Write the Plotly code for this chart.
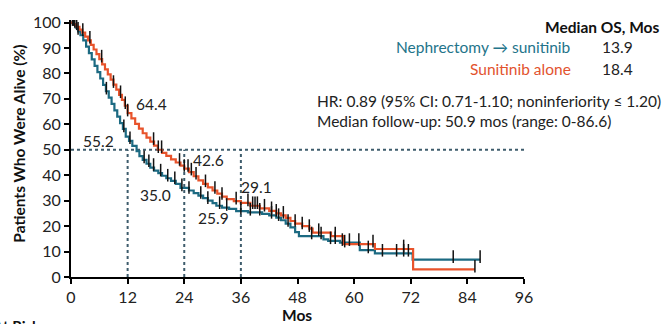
import numpy as np
import plotly.graph_objects as go

# ---------------- data ----------------
neph_t = [0, 0.5, 1.0, 1.5, 2.0, 2.6, 3.2, 3.8, 4.4, 5.0, 5.6, 6.2, 6.8, 7.4, 8.0, 8.6,
          9.2, 9.8, 10.4, 11.0, 11.6, 12.3, 13.0, 13.9, 14.5, 15.2, 16.0, 16.8, 17.6,
          18.5, 19.3, 20.2, 21.2, 22.2, 23.2, 25.0, 26.0, 27.0, 28.0, 29.0, 30.0, 30.8,
          32.0, 33.5, 35.0, 37.5, 40.5, 42.0, 43.5, 44.5, 45.5, 46.5, 47.5, 48.3, 53.5,
          54.5, 57.0, 61.2, 64.4, 72.4, 86.7]
neph_s = [100, 99.2, 98.0, 96.5, 95.0, 93.0, 90.5, 88.0, 85.5, 83.0, 80.5, 78.0, 75.5,
          73.0, 70.5, 68.0, 65.5, 63.0, 60.5, 58.2, 55.2, 53.5, 51.5, 49.5, 47.5, 46.0,
          44.5, 43.0, 41.8, 40.8, 39.8, 38.8, 37.8, 36.6, 35.0, 34.0, 33.0, 32.0, 31.0,
          30.0, 29.0, 28.0, 27.3, 26.8, 25.9, 25.4, 24.8, 24.2, 23.3, 22.3, 21.0, 19.5,
          17.6, 16.1, 14.8, 14.2, 13.5, 10.6, 9.3, 6.8, 6.8]

sun_t = [0, 0.6, 1.2, 1.8, 2.4, 3.0, 3.6, 4.2, 4.8, 5.4, 6.0, 6.6, 7.2, 7.8, 8.4, 9.0,
         9.6, 10.2, 10.8, 11.4, 12.0, 12.8, 13.6, 14.4, 15.2, 16.0, 16.8, 17.6, 18.4,
         19.3, 20.2, 21.2, 22.2, 23.2, 24.0, 25.0, 26.0, 27.0, 28.0, 29.0, 30.0, 31.0,
         32.0, 33.0, 34.5, 36.0, 38.0, 40.0, 42.0, 43.5, 44.5, 45.5, 46.5, 47.5, 49.0,
         50.5, 51.2, 55.1, 57.8, 64.4, 72.5, 85.6]
sun_s = [100, 99.3, 98.3, 97.2, 96.0, 94.5, 93.0, 91.2, 89.4, 87.6, 85.6, 83.6, 81.6,
         79.6, 77.6, 75.6, 73.6, 71.6, 69.6, 67.3, 64.4, 62.3, 60.2, 58.3, 56.5, 54.8,
         53.2, 51.6, 50.0, 48.8, 47.6, 46.2, 45.0, 43.8, 42.6, 41.2, 39.6, 38.0, 36.6,
         35.2, 34.0, 32.8, 31.6, 30.6, 29.8, 29.1, 28.0, 27.0, 26.0, 25.0, 24.2, 23.2,
         22.0, 21.0, 20.0, 19.0, 17.4, 16.1, 12.9, 11.0, 3.0, 3.0]

neph_cens = [0.3, 0.8, 1.5, 7.5, 11.2, 12.5, 15.5, 16.5, 17.5, 19.0, 20.5, 22.0, 23.5,
             25.0, 27.5, 29.0, 31.5, 33.0, 36.0, 38.0, 40.0, 42.5, 44.0, 46.0, 51.0,
             53.0, 55.0, 56.0, 57.5, 59.0, 61.0, 63.0, 66.0, 69.0, 70.5, 71.5, 81.0, 86.7]
sun_cens = [0.5, 1.2, 2.5, 4.0, 6.5, 9.0, 10.5, 11.5, 12.0, 17.5, 18.5, 19.2, 23.0, 24.0,
            24.8, 25.5, 26.5, 28.5, 30.5, 32.0, 35.0, 37.5, 38.5, 39.0, 39.5, 41.0, 42.5,
            43.5, 45.0, 47.5, 49.0, 50.5, 52.5, 56.0, 58.0, 64.0, 70.5, 85.6]

landmark_months = [12, 24, 36]
neph_landmarks = [55.2, 35.0, 25.9]
sun_landmarks = [64.4, 42.6, 29.1]

arm_names = ["Nephrectomy \u2192 sunitinib", "Sunitinib alone"]
median_os = ["13.9", "18.4"]
x_ticks = [0, 12, 24, 36, 48, 60, 72, 84, 96]
y_ticks = [0, 10, 20, 30, 40, 50, 60, 70, 80, 90, 100]

# ---------------- style ----------------
TEAL = "#1c6a82"
ORANGE = "#e8532b"
DOT = "#3e5c6c"
FONT = "Lato"

def step_at(t, times, surv):
    idx = np.searchsorted(np.array(times), np.array(t), side="right") - 1
    return np.array(surv)[idx]

fig = go.Figure()

# reference dotted lines
fig.add_trace(go.Scatter(x=[0, 96], y=[50, 50], mode="lines",
                         line=dict(color=DOT, width=2, dash="dot"), hoverinfo="skip",
                         showlegend=False))
for m in landmark_months:
    fig.add_trace(go.Scatter(x=[m, m], y=[0, 50], mode="lines",
                             line=dict(color=DOT, width=2, dash="dot"), hoverinfo="skip",
                             showlegend=False))

# curves
fig.add_trace(go.Scatter(x=neph_t, y=neph_s, mode="lines", line_shape="hv",
                         line=dict(color=TEAL, width=2.2), name=arm_names[0], showlegend=False))
fig.add_trace(go.Scatter(x=sun_t, y=sun_s, mode="lines", line_shape="hv",
                         line=dict(color=ORANGE, width=2.2), name=arm_names[1], showlegend=False))

# censor marks
for cens, tt, ss in [(neph_cens, neph_t, neph_s), (sun_cens, sun_t, sun_s)]:
    fig.add_trace(go.Scatter(x=cens, y=step_at(cens, tt, ss) + 1.2, mode="markers",
                             marker=dict(symbol="line-ns", size=9,
                                         line=dict(color="#111111", width=1.5)),
                             showlegend=False, hoverinfo="skip"))

# landmark labels (value text from the landmark arrays)
annotations = [
    dict(x=landmark_months[0] - 6.1, y=53.6, text=f"{neph_landmarks[0]:.1f}"),
    dict(x=landmark_months[1] - 6.0, y=32.2, text=f"{neph_landmarks[1]:.1f}"),
    dict(x=landmark_months[2] - 5.9, y=23.0, text=f"{neph_landmarks[2]:.1f}"),
    dict(x=landmark_months[0] + 5.0, y=67.8, text=f"{sun_landmarks[0]:.1f}"),
    dict(x=landmark_months[1] + 5.2, y=46.0, text=f"{sun_landmarks[1]:.1f}"),
    dict(x=landmark_months[2] + 3.4, y=35.2, text=f"{sun_landmarks[2]:.1f}"),
]
for a in annotations:
    a.update(showarrow=False, xanchor="center", yanchor="middle",
             font=dict(family=FONT, size=15.5, color="#222"))

L, W, T, H = 71, 453, 13, 264
def px(xp):
    return (xp - L) / W
def py(yp):
    return 1 - (yp - T) / H

right_anns = [
    dict(x=px(662), y=py(20), text="<b>Median OS, Mos</b>", xanchor="right",
         font=dict(family=FONT, size=15.5, color="#111")),
    dict(x=px(573), y=py(41), text=arm_names[0], xanchor="right",
         font=dict(family=FONT, size=15.5, color="#23748a")),
    dict(x=px(573), y=py(63), text=arm_names[1], xanchor="right",
         font=dict(family=FONT, size=15.5, color="#e2532e")),
    dict(x=px(600), y=py(41), text=median_os[0], xanchor="left",
         font=dict(family=FONT, size=15.5, color="#222")),
    dict(x=px(600), y=py(63), text=median_os[1], xanchor="left",
         font=dict(family=FONT, size=15.5, color="#222")),
    dict(x=px(315), y=py(96), text="HR: 0.89 (95% CI: 0.71-1.10; noninferiority \u2264 1.20)",
         xanchor="left", font=dict(family=FONT, size=15.5, color="#222")),
    dict(x=px(315), y=py(117), text="Median follow-up: 50.9 mos (range: 0-86.6)",
         xanchor="left", font=dict(family=FONT, size=15.5, color="#222")),
    dict(x=px(19), y=py(140), text="<b>Patients Who Were Alive (%)</b>", textangle=-90,
         xanchor="center", font=dict(family=FONT, size=15.5, color="#111")),
    dict(x=px(297), y=py(316), text="<b>Mos</b>", xanchor="center",
         font=dict(family=FONT, size=15.5, color="#111")),
]
for a in right_anns:
    a.update(xref="paper", yref="paper", showarrow=False, yanchor="middle")
right_anns.append(dict(x=px(-10), y=py(316), text="<b>At Risk, n</b>", xanchor="left",
                       yanchor="top", xref="paper", yref="paper", showarrow=False,
                       font=dict(family=FONT, size=15, color="#111")))

fig.update_layout(
    width=671, height=324,
    margin=dict(l=L, r=671 - L - W, t=T, b=324 - T - H),
    paper_bgcolor="white", plot_bgcolor="white",
    annotations=annotations + right_anns,
    xaxis=dict(range=[0, 96], tickvals=x_ticks, showgrid=False, zeroline=False,
               showline=True, linecolor="black", linewidth=2, ticks="outside",
               ticklen=5, tickwidth=2, tickcolor="black",
               tickfont=dict(family=FONT, size=16, color="#222")),
    yaxis=dict(range=[0, 101], tickvals=y_ticks, showgrid=False, zeroline=False,
               showline=True, linecolor="black", linewidth=2, ticks="outside",
               ticklen=5, tickwidth=2, tickcolor="black",
               tickfont=dict(family=FONT, size=16, color="#222")),
    showlegend=False,
)

fig.write_html("out.html")
